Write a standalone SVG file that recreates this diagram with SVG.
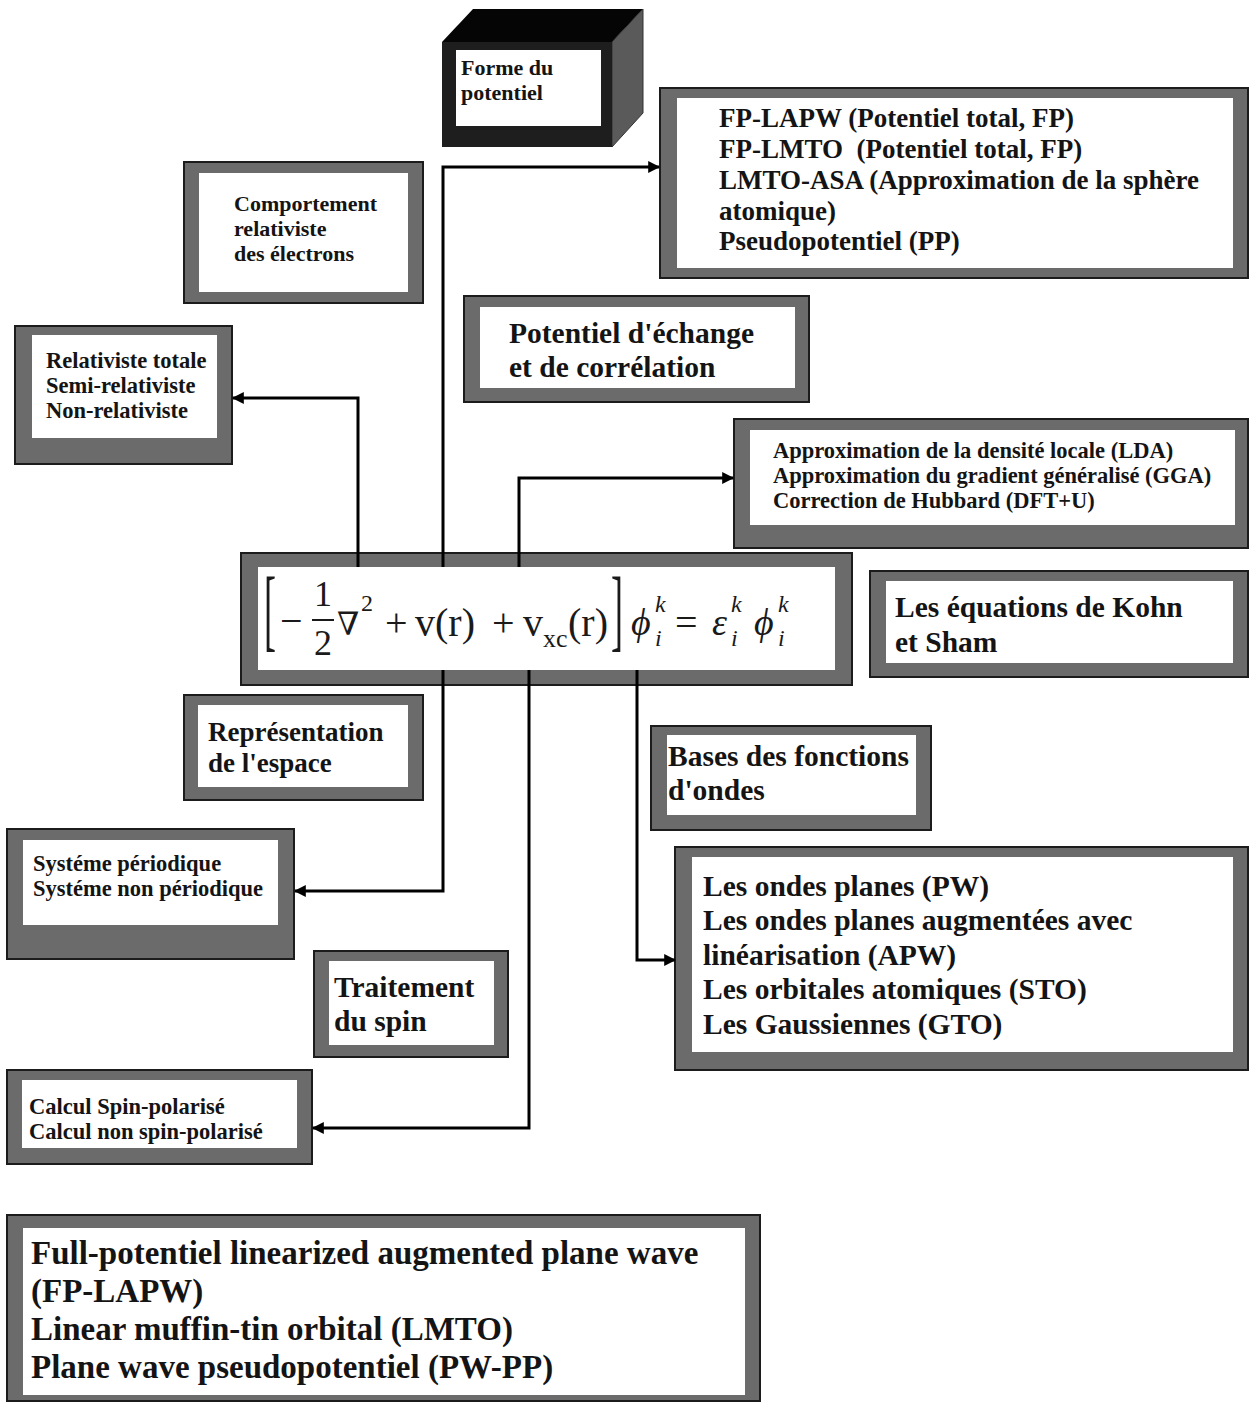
<svg xmlns="http://www.w3.org/2000/svg" width="1250" height="1403" viewBox="0 0 1250 1403">
<defs>
<style>
.o{fill:#6b6b6b;stroke:#1c1c1c;stroke-width:2}
.w{fill:#ffffff}
.t{font-family:"Liberation Serif","Times New Roman",serif;font-weight:bold;fill:#141414}
.m{font-family:"Liberation Serif","DejaVu Serif",serif;fill:#1a1a1a}
.i{font-style:italic}
.c{fill:none;stroke:#000;stroke-width:3}
</style>
<marker id="ah" viewBox="0 0 10 10" refX="9" refY="5" markerWidth="12" markerHeight="12" markerUnits="userSpaceOnUse" orient="auto">
<path d="M0,0 L10,5 L0,10 z" fill="#000"/>
</marker>
</defs>
<rect width="1250" height="1403" fill="#ffffff"/>

<g id="forme">
<polygon points="442,42 473,9 643,9 612,42" fill="#050505"/>
<polygon points="612,42 643,9 643,113 612,147" fill="#5a5a5a" stroke="#333" stroke-width="1"/>
<rect x="442" y="42" width="170" height="105" fill="#1e1e1e"/>
<rect x="456" y="50" width="145" height="76" class="w"/>
<text class="t" font-size="22"><tspan x="461" y="75">Forme du</tspan><tspan x="461" y="100">potentiel</tspan></text>
</g>

<g id="fplapw">
<rect x="660" y="88" width="588" height="190" class="o"/>
<rect x="677" y="98" width="556" height="170" class="w"/>
<text class="t" font-size="27"><tspan x="719" y="127">FP-LAPW (Potentiel total, FP)</tspan><tspan x="719" y="158">FP-LMTO &#160;(Potentiel total, FP)</tspan><tspan x="719" y="189">LMTO-ASA (Approximation de la sphère</tspan><tspan x="719" y="220">atomique)</tspan><tspan x="719" y="250">Pseudopotentiel (PP)</tspan></text>
</g>

<g id="comportement">
<rect x="184" y="162" width="239" height="141" class="o"/>
<rect x="199" y="173" width="209" height="119" class="w"/>
<text class="t" font-size="22"><tspan x="234" y="211">Comportement</tspan><tspan x="234" y="236">relativiste</tspan><tspan x="234" y="261">des électrons</tspan></text>
</g>

<g id="relativiste">
<rect x="15" y="326" width="217" height="138" class="o"/>
<rect x="32" y="335" width="185" height="103" class="w"/>
<text class="t" font-size="22.5"><tspan x="46" y="368">Relativiste totale</tspan><tspan x="46" y="393">Semi-relativiste</tspan><tspan x="46" y="418">Non-relativiste</tspan></text>
</g>

<g id="echange">
<rect x="464" y="296" width="345" height="106" class="o"/>
<rect x="480" y="307" width="315" height="81" class="w"/>
<text class="t" font-size="29.5"><tspan x="509" y="343">Potentiel d'échange</tspan><tspan x="509" y="377">et de corrélation</tspan></text>
</g>

<g id="lda">
<rect x="734" y="419" width="514" height="129" class="o"/>
<rect x="750" y="430" width="485" height="95" class="w"/>
<text class="t" font-size="22.5"><tspan x="773" y="458">Approximation de la densité locale (LDA)</tspan><tspan x="773" y="483">Approximation du gradient généralisé (GGA)</tspan><tspan x="773" y="508">Correction de Hubbard (DFT+U)</tspan></text>
</g>

<g id="equation">
<rect x="241" y="553" width="611" height="132" class="o"/>
<rect x="258" y="567" width="577" height="103" class="w"/>
<text class="m" font-size="36" transform="translate(264,640) scale(1,2.55)">[</text>
<text class="m" font-size="40" x="280" y="634">−</text>
<text class="m" font-size="36" x="314" y="606">1</text>
<line x1="312" y1="620" x2="334" y2="620" stroke="#1a1a1a" stroke-width="2"/>
<text class="m" font-size="36" x="314" y="655">2</text>
<text class="m" font-size="32" x="337" y="635">∇</text>
<text class="m" font-size="24" x="361" y="611">2</text>
<text class="m" font-size="40" x="385" y="636">+</text>
<text class="m" font-size="40" x="415" y="636">v(r)</text>
<text class="m" font-size="40" x="492" y="636">+</text>
<text class="m" font-size="40" x="523" y="636">v</text>
<text class="m" font-size="26" x="543" y="647">xc</text>
<text class="m" font-size="40" x="568" y="636">(r)</text>
<text class="m" font-size="36" transform="translate(611,640) scale(1,2.55)">]</text>
<text class="m i" font-size="38" x="631" y="635">ϕ</text>
<text class="m i" font-size="24" x="655" y="612">k</text>
<text class="m i" font-size="24" x="655" y="646">i</text>
<text class="m" font-size="40" x="675" y="636">=</text>
<text class="m i" font-size="38" x="712" y="635">ε</text>
<text class="m i" font-size="24" x="731" y="612">k</text>
<text class="m i" font-size="24" x="731" y="646">i</text>
<text class="m i" font-size="38" x="754" y="635">ϕ</text>
<text class="m i" font-size="24" x="778" y="612">k</text>
<text class="m i" font-size="24" x="778" y="646">i</text>
</g>

<g id="kohn">
<rect x="870" y="571" width="378" height="106" class="o"/>
<rect x="886" y="581" width="347" height="82" class="w"/>
<text class="t" font-size="29.5"><tspan x="895" y="617">Les équations de Kohn</tspan><tspan x="895" y="652">et Sham</tspan></text>
</g>

<g id="representation">
<rect x="184" y="695" width="239" height="105" class="o"/>
<rect x="198" y="705" width="210" height="82" class="w"/>
<text class="t" font-size="27"><tspan x="208" y="741">Représentation</tspan><tspan x="208" y="772">de l'espace</tspan></text>
</g>

<g id="bases">
<rect x="651" y="726" width="280" height="104" class="o"/>
<rect x="667" y="735" width="249" height="80" class="w"/>
<text class="t" font-size="29.5"><tspan x="668" y="766">Bases des fonctions</tspan><tspan x="668" y="800">d'ondes</tspan></text>
</g>

<g id="systeme">
<rect x="7" y="829" width="287" height="130" class="o"/>
<rect x="23" y="840" width="255" height="85" class="w"/>
<text class="t" font-size="22.5"><tspan x="33" y="871">Systéme périodique</tspan><tspan x="33" y="896">Systéme non périodique</tspan></text>
</g>

<g id="spin">
<rect x="314" y="951" width="194" height="106" class="o"/>
<rect x="329" y="961" width="165" height="84" class="w"/>
<text class="t" font-size="29.5"><tspan x="334" y="997">Traitement</tspan><tspan x="334" y="1031">du spin</tspan></text>
</g>

<g id="ondes">
<rect x="675" y="847" width="573" height="223" class="o"/>
<rect x="692" y="857" width="541" height="195" class="w"/>
<text class="t" font-size="29.5"><tspan x="703" y="896">Les ondes planes (PW)</tspan><tspan x="703" y="930">Les ondes planes augmentées avec</tspan><tspan x="703" y="965">linéarisation (APW)</tspan><tspan x="703" y="999">Les orbitales atomiques (STO)</tspan><tspan x="703" y="1034">Les Gaussiennes (GTO)</tspan></text>
</g>

<g id="calcul">
<rect x="7" y="1070" width="305" height="94" class="o"/>
<rect x="22" y="1080" width="275" height="68" class="w"/>
<text class="t" font-size="22.5"><tspan x="29" y="1114">Calcul Spin-polarisé</tspan><tspan x="29" y="1139">Calcul non spin-polarisé</tspan></text>
</g>

<g id="methodes">
<rect x="7" y="1215" width="753" height="186" class="o"/>
<rect x="23" y="1228" width="722" height="167" class="w"/>
<text class="t" font-size="33"><tspan x="31" y="1264">Full-potentiel linearized augmented plane wave</tspan><tspan x="31" y="1302">(FP-LAPW)</tspan><tspan x="31" y="1340">Linear muffin-tin orbital (LMTO)</tspan><tspan x="31" y="1378">Plane wave pseudopotentiel (PW-PP)</tspan></text>
</g>

<g id="connectors">
<path class="c" d="M443,567 V167 H659" marker-end="url(#ah)"/>
<path class="c" d="M358,567 V398 H233" marker-end="url(#ah)"/>
<path class="c" d="M519,567 V478 H733" marker-end="url(#ah)"/>
<path class="c" d="M443,670 V891 H295" marker-end="url(#ah)"/>
<path class="c" d="M529,670 V1128 H313" marker-end="url(#ah)"/>
<path class="c" d="M637,670 V960 H675" marker-end="url(#ah)"/>
</g>
</svg>
